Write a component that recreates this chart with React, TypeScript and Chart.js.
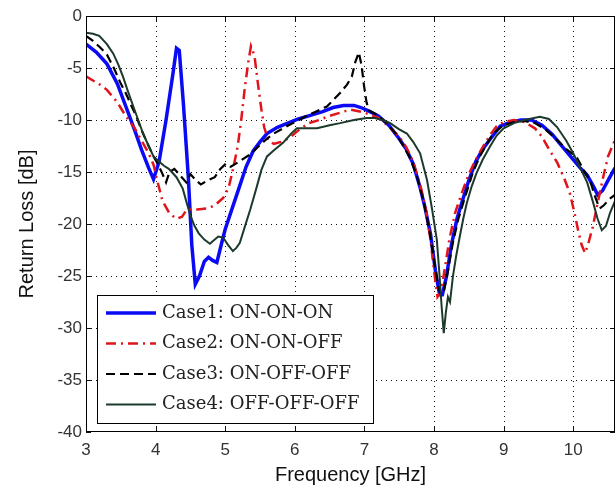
import React, { useEffect, useRef } from "react";
import { Chart, registerables } from "chart.js";

Chart.register(...registerables);

const xTicks = [3, 4, 5, 6, 7, 8, 9, 10];
const yTicks = [0, -5, -10, -15, -20, -25, -30, -35, -40];
const seriesNames = [
  "Case1: ON-ON-ON",
  "Case2: ON-ON-OFF",
  "Case3: ON-OFF-OFF",
  "Case4: OFF-OFF-OFF",
];

const case1Freq = [3.0, 3.15, 3.3, 3.45, 3.6, 3.7, 3.8, 3.9, 3.97, 4.05, 4.15, 4.25, 4.3, 4.34, 4.4, 4.47, 4.52, 4.57, 4.63, 4.7, 4.76, 4.82, 4.88, 4.95, 5.0, 5.1, 5.2, 5.3, 5.4, 5.5, 5.6, 5.75, 5.9, 6.05, 6.2, 6.4, 6.55, 6.7, 6.85, 6.95, 7.05, 7.2, 7.35, 7.5, 7.6, 7.7, 7.8, 7.87, 7.95, 8.02, 8.08, 8.12, 8.18, 8.25, 8.33, 8.42, 8.5, 8.6, 8.7, 8.8, 8.95, 9.1, 9.25, 9.4, 9.55, 9.7, 9.85, 10.0, 10.1, 10.2, 10.3, 10.35, 10.42, 10.5, 10.6];
const case1Loss = [-2.7, -3.5, -4.6, -6.5, -9.2, -11.0, -12.9, -14.6, -15.7, -14.0, -10.0, -5.5, -3.1, -3.3, -8.5, -15.5, -22, -25.8, -25.0, -23.6, -23.2, -23.5, -23.7, -21.8, -20.5, -18.5, -16.5, -14.5, -13.0, -12.1, -11.3, -10.7, -10.3, -9.9, -9.6, -9.2, -8.8, -8.6, -8.6, -8.8, -9.1, -9.6, -10.5, -11.8, -12.8, -14.2, -16.5, -18.4, -21, -24.5, -26.8, -26.8, -25, -22, -19.5, -17.5, -15.8, -14, -12.8, -11.9, -10.6, -10.2, -10.0, -10.0, -10.5, -11.4, -12.6, -13.8, -14.6, -15.3, -16.5, -17.2, -16.8, -15.8, -14.6];

const case2Freq = [3.0, 3.1, 3.2, 3.3, 3.45, 3.57, 3.7, 3.8, 3.9, 3.97, 4.03, 4.1, 4.2, 4.3, 4.38, 4.45, 4.6, 4.75, 4.85, 4.97, 5.05, 5.12, 5.18, 5.23, 5.28, 5.33, 5.37, 5.42, 5.47, 5.52, 5.56, 5.62, 5.7, 5.8, 5.93, 6.05, 6.2, 6.35, 6.5, 6.65, 6.8, 6.95, 7.05, 7.2, 7.35, 7.5, 7.6, 7.7, 7.8, 7.88, 7.95, 8.0, 8.05, 8.1, 8.15, 8.22, 8.3, 8.4, 8.5, 8.6, 8.7, 8.8, 8.9, 9.0, 9.15, 9.3, 9.45, 9.55, 9.65, 9.77, 9.87, 9.95, 10.02, 10.07, 10.12, 10.17, 10.22, 10.28, 10.35, 10.43, 10.5, 10.6];
const case2Loss = [-5.8, -6.2, -6.6, -7.1, -8.3, -9.6, -10.8, -12.0, -13.2, -14.3, -16.0, -17.8, -19.0, -19.5, -19.3, -18.6, -18.6, -18.5, -18.2, -17.5, -16.5, -14.5, -12.5, -10.0, -7.0, -4.5, -2.9, -3.8, -6.5, -9.0, -10.7, -12.0, -12.3, -12.1, -11.7, -11.0, -10.3, -10.0, -9.6, -9.3, -9.0, -9.2, -9.4, -9.8, -10.6, -11.6, -12.6, -14.0, -16.2, -18.5, -21.5, -24.5, -27, -26.5, -24.5, -21.5, -19, -17, -15.2, -13.8, -12.6, -11.5, -10.6, -10.2, -10.0, -10.2, -10.8, -11.6, -12.8, -14.1, -15.6, -17, -19, -20.6, -22, -22.8, -21.8, -20.3, -18, -15.5, -13.5, -11.9];

const case3Freq = [3.0, 3.1, 3.2, 3.3, 3.4, 3.5, 3.57, 3.65, 3.72, 3.8, 3.9, 3.97, 4.03, 4.1, 4.15, 4.2, 4.27, 4.35, 4.44, 4.5, 4.58, 4.65, 4.75, 4.85, 4.93, 5.01, 5.08, 5.2, 5.36, 5.5, 5.6, 5.7, 5.83, 6.0, 6.17, 6.3, 6.46, 6.55, 6.65, 6.75, 6.82, 6.87, 6.92, 6.96, 6.99, 7.03, 7.07, 7.18, 7.3, 7.45, 7.55, 7.65, 7.75, 7.85, 7.93, 8.0, 8.06, 8.1, 8.14, 8.2, 8.27, 8.35, 8.45, 8.55, 8.65, 8.75, 8.85, 9.0, 9.15, 9.3, 9.45, 9.6, 9.75, 9.9, 10.05, 10.15, 10.25, 10.32, 10.38, 10.44, 10.52, 10.6];
const case3Loss = [-1.9, -2.4, -3.0, -3.7, -5.0, -6.5, -7.4, -8.6, -9.6, -11.0, -12.5, -13.5, -14.2, -15.2, -16.0, -15.0, -14.7, -15.3, -16.0, -15.2, -15.8, -16.2, -15.8, -15.5, -14.7, -14.2, -14.5, -14.0, -13.3, -12.4, -11.8, -11.3, -10.8, -10.2, -9.6, -9.2, -8.7, -8.1, -7.4, -6.6, -5.8, -4.4, -3.5, -4.8, -6.5, -8.3, -9.1, -9.5, -10.2, -11.3, -12.4, -13.6, -15.3, -17.8, -20.5, -23.5, -26, -26.8, -26.5, -24.5, -21.8, -19.5, -17.3, -15.2, -13.6, -12.4, -11.3, -10.5, -10.2, -10.1, -10.3, -10.9, -11.8, -12.8, -13.6, -14.8, -16, -17.5, -18.5, -18.2, -17.6, -17.2];

const case4Freq = [3.0, 3.1, 3.19, 3.3, 3.39, 3.46, 3.53, 3.6, 3.68, 3.75, 3.82, 3.9, 3.97, 4.05, 4.12, 4.19, 4.3, 4.39, 4.44, 4.5, 4.56, 4.62, 4.7, 4.78, 4.85, 4.9, 4.97, 5.04, 5.11, 5.16, 5.21, 5.28, 5.36, 5.45, 5.52, 5.6, 5.7, 5.83, 5.95, 6.03, 6.2, 6.32, 6.5, 6.65, 6.85, 7.03, 7.15, 7.3, 7.37, 7.5, 7.61, 7.7, 7.8, 7.9, 7.97, 8.04, 8.08, 8.11, 8.14, 8.17, 8.2, 8.23, 8.27, 8.32, 8.37, 8.42, 8.47, 8.54, 8.61, 8.7, 8.8, 8.9, 9.0, 9.15, 9.3, 9.52, 9.65, 9.77, 9.9, 10.0, 10.1, 10.2, 10.28, 10.35, 10.41, 10.47, 10.53, 10.6];
const case4Loss = [-1.6, -1.7, -1.9, -2.7, -3.6, -4.6, -5.8, -7.2, -8.7, -10.0, -11.3, -12.5, -13.5, -14.0, -14.4, -14.7, -15.5, -16.6, -17.8, -19.2, -20.2, -20.9, -21.5, -21.9, -21.5, -21.2, -21.3, -22.0, -22.6, -22.3, -21.8, -20.3, -18.6, -16.5, -14.8, -13.5, -12.9, -12.2, -11.3, -10.8, -10.8, -10.8, -10.5, -10.3, -10.0, -9.8, -9.8, -10.1, -10.3, -10.9, -11.3, -12.1, -13.2, -15.8, -18.5, -21.5, -25, -28, -30.5, -28.5, -27, -27.5, -25.1, -23, -21.2, -19.5, -18, -16.4, -15.1, -13.8, -12.6, -11.5, -10.8, -10.3, -10.0, -9.7, -9.9, -10.7, -12.0, -13.2, -14.6, -16.0, -17.8, -19.5, -20.6, -20.2, -18.9, -17.8];

const colors = ["#0a0af5", "#e2141b", "#000000", "#1c3a2a"];
const widths = [3.5, 2.5, 2.2, 2];
const dashes: number[][] = [[], [10, 5, 2, 5], [9, 5], []];

const pts = (f: number[], v: number[]) => f.map((x, i) => ({ x, y: v[i] }));

const dottedGrid = {
  id: "dottedGrid",
  beforeDatasetsDraw(chart: any) {
    const { ctx, chartArea: a, scales } = chart;
    ctx.save();
    ctx.strokeStyle = "#111";
    ctx.lineWidth = 1;
    ctx.setLineDash([1, 4]);
    xTicks.forEach((v) => {
      const x = Math.round(scales.x.getPixelForValue(v)) + 0.5;
      if (x <= a.left + 1) return;
      ctx.beginPath();
      ctx.moveTo(x, a.bottom);
      ctx.lineTo(x, a.top);
      ctx.stroke();
    });
    yTicks.forEach((v) => {
      const y = Math.round(scales.y.getPixelForValue(v)) + 0.5;
      if (y <= a.top + 1 || y >= a.bottom - 1) return;
      ctx.beginPath();
      ctx.moveTo(a.left, y);
      ctx.lineTo(a.right, y);
      ctx.stroke();
    });
    ctx.setLineDash([]);
    // small inward tick marks
    xTicks.forEach((v) => {
      const x = Math.round(scales.x.getPixelForValue(v)) + 0.5;
      ctx.beginPath();
      ctx.moveTo(x, a.bottom);
      ctx.lineTo(x, a.bottom - 5);
      ctx.moveTo(x, a.top);
      ctx.lineTo(x, a.top + 5);
      ctx.stroke();
    });
    yTicks.forEach((v) => {
      const y = Math.round(scales.y.getPixelForValue(v)) + 0.5;
      ctx.beginPath();
      ctx.moveTo(a.left, y);
      ctx.lineTo(a.left + 5, y);
      ctx.moveTo(a.right, y);
      ctx.lineTo(a.right - 5, y);
      ctx.stroke();
    });
    ctx.restore();
  },
};

const frameLegend = {
  id: "frameLegend",
  afterDraw(chart: any) {
    const { ctx, chartArea: a } = chart;
    ctx.save();
    ctx.strokeStyle = "#000";
    ctx.lineWidth = 1;
    ctx.setLineDash([]);
    ctx.strokeRect(a.left + 0.5, a.top + 0.5, a.right - a.left - 1, a.bottom - a.top - 1);
    // legend box
    const lx = 97, ly = 295, lw = 276, lh = 128;
    ctx.fillStyle = "#fff";
    ctx.fillRect(lx, ly, lw, lh);
    ctx.strokeRect(lx + 0.5, ly + 0.5, lw, lh);
    ctx.font = "18px 'DejaVu Serif'";
    ctx.textBaseline = "middle";
    seriesNames.forEach((name, i) => {
      const y = 313 + i * 30.5;
      ctx.beginPath();
      ctx.strokeStyle = colors[i];
      ctx.lineWidth = widths[i];
      ctx.setLineDash(dashes[i]);
      ctx.moveTo(106, y);
      ctx.lineTo(156, y);
      ctx.stroke();
      ctx.setLineDash([]);
      ctx.fillStyle = "#222";
      ctx.fillText(name, 162, y);
    });
    ctx.restore();
  },
};

export default function App() {
  const ref = useRef<HTMLCanvasElement>(null);
  useEffect(() => {
    document.body.style.margin = "0";
    const datasets = [
      pts(case1Freq, case1Loss),
      pts(case2Freq, case2Loss),
      pts(case3Freq, case3Loss),
      pts(case4Freq, case4Loss),
    ].map((data, i) => ({
      label: seriesNames[i],
      data,
      borderColor: colors[i],
      borderWidth: widths[i],
      borderDash: dashes[i],
      pointRadius: 0,
      tension: 0,
      fill: false,
    }));
    const chart = new Chart(ref.current!, {
      type: "line",
      data: { datasets: datasets.slice().reverse() as any },
      options: {
        animation: false,
        responsive: false,
        maintainAspectRatio: false,
        layout: { padding: { left: 0, right: 1, top: 16, bottom: 0 } },
        plugins: { legend: { display: false }, tooltip: { enabled: false } },
        scales: {
          x: {
            type: "linear",
            min: 3,
            max: 10.6,
            afterBuildTicks: (s: any) => {
              s.ticks = xTicks.map((v) => ({ value: v }));
            },
            afterFit: (s: any) => {
              s.height = 56;
            },
            grid: { display: false, drawTicks: false },
            border: { display: false },
            ticks: {
              color: "#333",
              font: { family: "'Liberation Sans', Arial", size: 17 },
              padding: 8,
              maxRotation: 0,
            },
            title: {
              display: true,
              text: "Frequency [GHz]",
              color: "#111",
              font: { family: "'Liberation Sans', Arial", size: 20 },
              padding: { top: 0, bottom: 1 },
            },
          },
          y: {
            type: "linear",
            min: -40,
            max: 0,
            afterBuildTicks: (s: any) => {
              s.ticks = yTicks.map((v) => ({ value: v }));
            },
            afterFit: (s: any) => {
              s.width = 86;
            },
            grid: { display: false, drawTicks: false },
            border: { display: false },
            ticks: {
              color: "#333",
              font: { family: "'Liberation Sans', Arial", size: 17 },
              padding: 4,
            },
            title: {
              display: true,
              text: "Return Loss [dB]",
              color: "#111",
              font: { family: "'Liberation Sans', Arial", size: 20 },
              padding: { top: 15, bottom: 0 },
            },
          },
        },
      },
      plugins: [dottedGrid, frameLegend],
    });
    return () => chart.destroy();
  }, []);
  return <canvas ref={ref} width={616} height={488} style={{ display: "block" }} />;
}
